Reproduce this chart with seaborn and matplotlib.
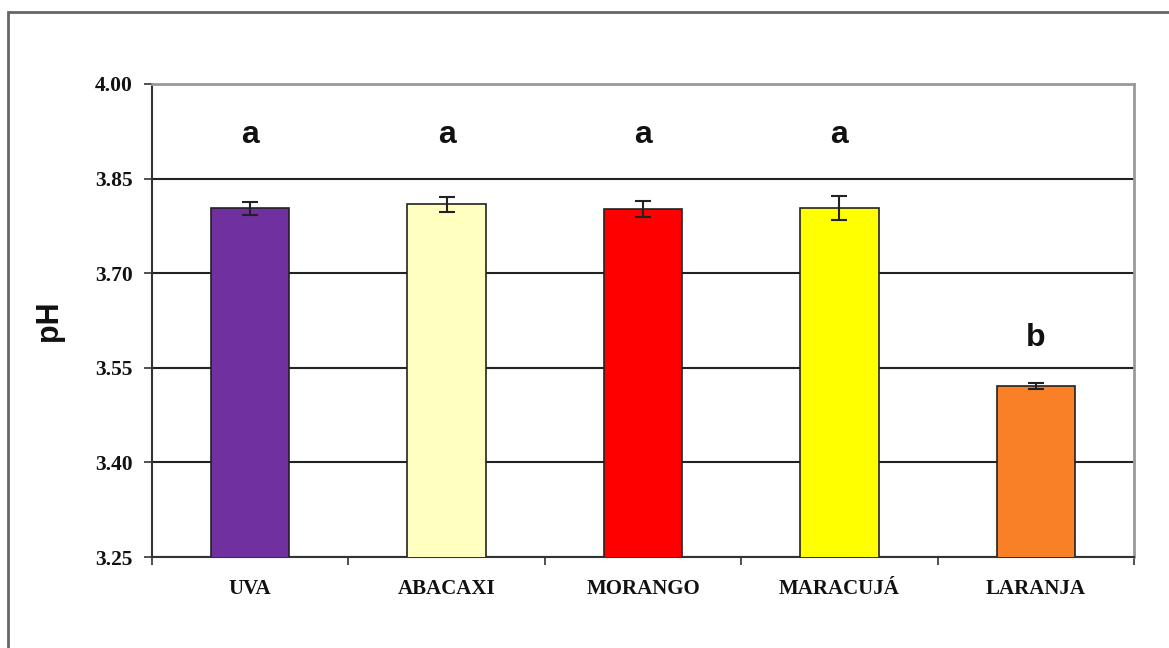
import matplotlib
matplotlib.use("Agg")
import matplotlib.pyplot as plt
import matplotlib.ticker as mticker
from matplotlib.patches import Rectangle
import numpy as np
import pandas as pd
import seaborn as sns

# Mean pH per juice flavour, with standard deviation and Tukey group letters
flavours = ["UVA", "ABACAXI", "MORANGO", "MARACUJÁ", "LARANJA"]
ph_mean = [3.803, 3.809, 3.802, 3.804, 3.521]
ph_sd = [0.010, 0.012, 0.013, 0.019, 0.005]
groups = ["a", "a", "a", "a", "b"]
bar_colors = ["#7030A0", "#FFFFC0", "#FF0000", "#FFFF00", "#F98026"]
y_ticks = [3.25, 3.40, 3.55, 3.70, 3.85, 4.00]

df = pd.DataFrame({"sabor": flavours, "pH": ph_mean})

sns.set_theme(style="white")
plt.rcParams["font.family"] = ["Liberation Serif", "DejaVu Serif"]

fig = plt.figure(figsize=(11.69, 6.48), dpi=100)
ax = fig.add_axes([0.1300, 0.1404, 0.8401, 0.7300])

sns.barplot(data=df, x="sabor", y="pH", hue="sabor", palette=bar_colors,
            saturation=1, legend=False, errorbar=None, width=0.4,
            edgecolor="#222222", linewidth=1.2, ax=ax, zorder=3)

centers = np.arange(len(flavours))
ax.errorbar(centers, ph_mean, yerr=ph_sd, fmt="none", ecolor="#222222",
            elinewidth=1.5, capsize=6, capthick=1.5, zorder=4)

# group letters sit at a common height above the tallest bar of each group
group_top = {g: max(m for m, gg in zip(ph_mean, groups) if gg == g)
             for g in set(groups)}
letter_gap = {"a": 0.110, "b": 0.076}
for xc, g in zip(centers, groups):
    ax.text(xc, group_top[g] + letter_gap[g], g, ha="center", va="center",
            fontsize=23, fontweight="bold", family="Liberation Sans",
            color="#111111")

ax.set_xlim(-0.5, len(flavours) - 0.5)
ax.set_ylim(y_ticks[0], y_ticks[-1])
ax.set_yticks(y_ticks)
ax.yaxis.set_major_formatter(mticker.FormatStrFormatter("%.2f"))

ax.set_axisbelow(True)
ax.yaxis.grid(True, color="#222222", linewidth=1.5)
ax.xaxis.grid(False)

# category boundaries carry the x tick marks
ax.set_xticks(centers)
ax.set_xticks(np.arange(-0.5, len(flavours), 1.0), minor=True)
ax.tick_params(axis="x", which="major", length=0, pad=16, labelsize=15)
ax.tick_params(axis="x", which="minor", length=6, width=1.2, color="#333333",
               direction="out", bottom=True)
ax.tick_params(axis="y", length=6, width=1.2, color="#333333",
               direction="out", left=True, labelsize=15.5, pad=8)
for lbl in ax.get_xticklabels() + ax.get_yticklabels():
    lbl.set_fontweight("bold")
    lbl.set_color("#111111")

ax.set_xlabel("")
ax.set_ylabel("pH", fontsize=22, fontweight="bold", family="Liberation Sans",
              labelpad=22, color="#111111")

ax.spines["left"].set_color("#333333")
ax.spines["bottom"].set_color("#333333")
ax.spines["left"].set_linewidth(1.5)
ax.spines["bottom"].set_linewidth(1.5)
ax.spines["top"].set_color("#999999")
ax.spines["right"].set_color("#999999")
ax.spines["top"].set_linewidth(2)
ax.spines["right"].set_linewidth(2)

# chart-area frame
fig.patches.append(Rectangle((0.007, -0.2), 1.2, 0.2 + 0.9815, fill=False,
                             edgecolor="#666666", linewidth=2,
                             transform=fig.transFigure, figure=fig))

fig.savefig("out.png", dpi=100, facecolor="white")
